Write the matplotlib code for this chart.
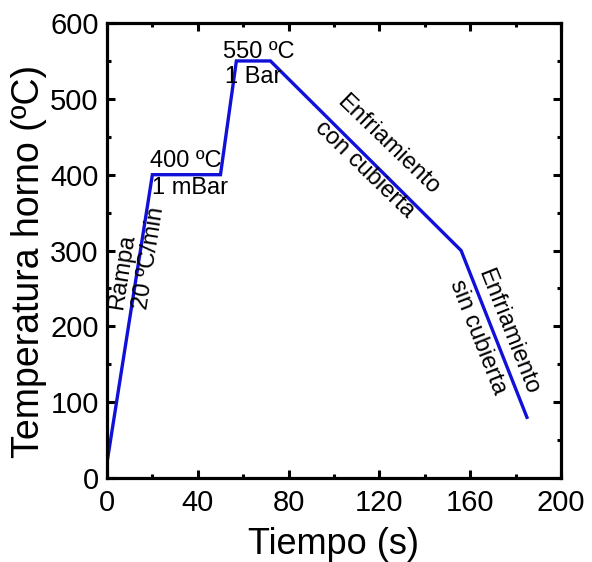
import matplotlib
matplotlib.use('Agg')
import matplotlib.pyplot as plt
from matplotlib.ticker import MultipleLocator

# temperature profile of the furnace
tiempo = [0, 20, 50, 57, 72, 156, 185]
temperatura = [20, 400, 400, 550, 550, 300, 80]

# annotation labels: (text, x, y, ha)
notas = [
    ('400 ºC', 19, 410, 'left'),
    ('1 mBar', 20, 375, 'left'),
    ('550 ºC', 51, 554, 'left'),
    ('1 Bar', 52, 521, 'left'),
]
# rotated labels: (text, x, y, rotation)
notas_rot = [
    ('Rampa', 6.5, 272, 81),
    ('20 ºC/min', 18.5, 290, 81),
    ('Enfriamiento', 124, 440, -44),
    ('con cubierta', 113.5, 407, -44),
    ('Enfriamiento', 176.5, 193, -68.5),
    ('sin cubierta', 163.5, 186, -68.5),
]

plt.rcParams['font.family'] = ['Liberation Sans', 'DejaVu Sans']

fig = plt.figure(figsize=(5.92, 5.62), dpi=100)
ax = fig.add_axes([0.1807, 0.1495, 0.7669, 0.8095])

ax.plot(tiempo, temperatura, color='#1010d8', lw=2.4, solid_joinstyle='miter')

for txt, x, y, ha in notas:
    ax.text(x, y, txt, fontsize=17, ha=ha, va='baseline')
for txt, x, y, rot in notas_rot:
    ax.text(x, y, txt, fontsize=17, ha='center', va='center',
            rotation=rot, rotation_mode='anchor')

ax.set_xlim(0, 200)
ax.set_ylim(0, 600)
ax.xaxis.set_major_locator(MultipleLocator(40))
ax.xaxis.set_minor_locator(MultipleLocator(20))
ax.yaxis.set_major_locator(MultipleLocator(100))
ax.yaxis.set_minor_locator(MultipleLocator(50))
ax.tick_params(which='both', direction='in', top=True, right=True, width=2.2, labelsize=21)
ax.tick_params(which='major', length=6)
ax.tick_params(which='minor', length=3)
ax.tick_params(axis='y', pad=6)
ax.tick_params(axis='x', pad=8)
for s in ax.spines.values():
    s.set_linewidth(2.3)

ax.set_xlabel('Tiempo (s)', fontsize=26)
ax.set_ylabel('Temperatura horno (ºC)', fontsize=27)
ax.xaxis.set_label_coords(0.5, -0.108)
ax.yaxis.set_label_coords(-0.132, 0.475)

fig.savefig('out.png', dpi=100)
